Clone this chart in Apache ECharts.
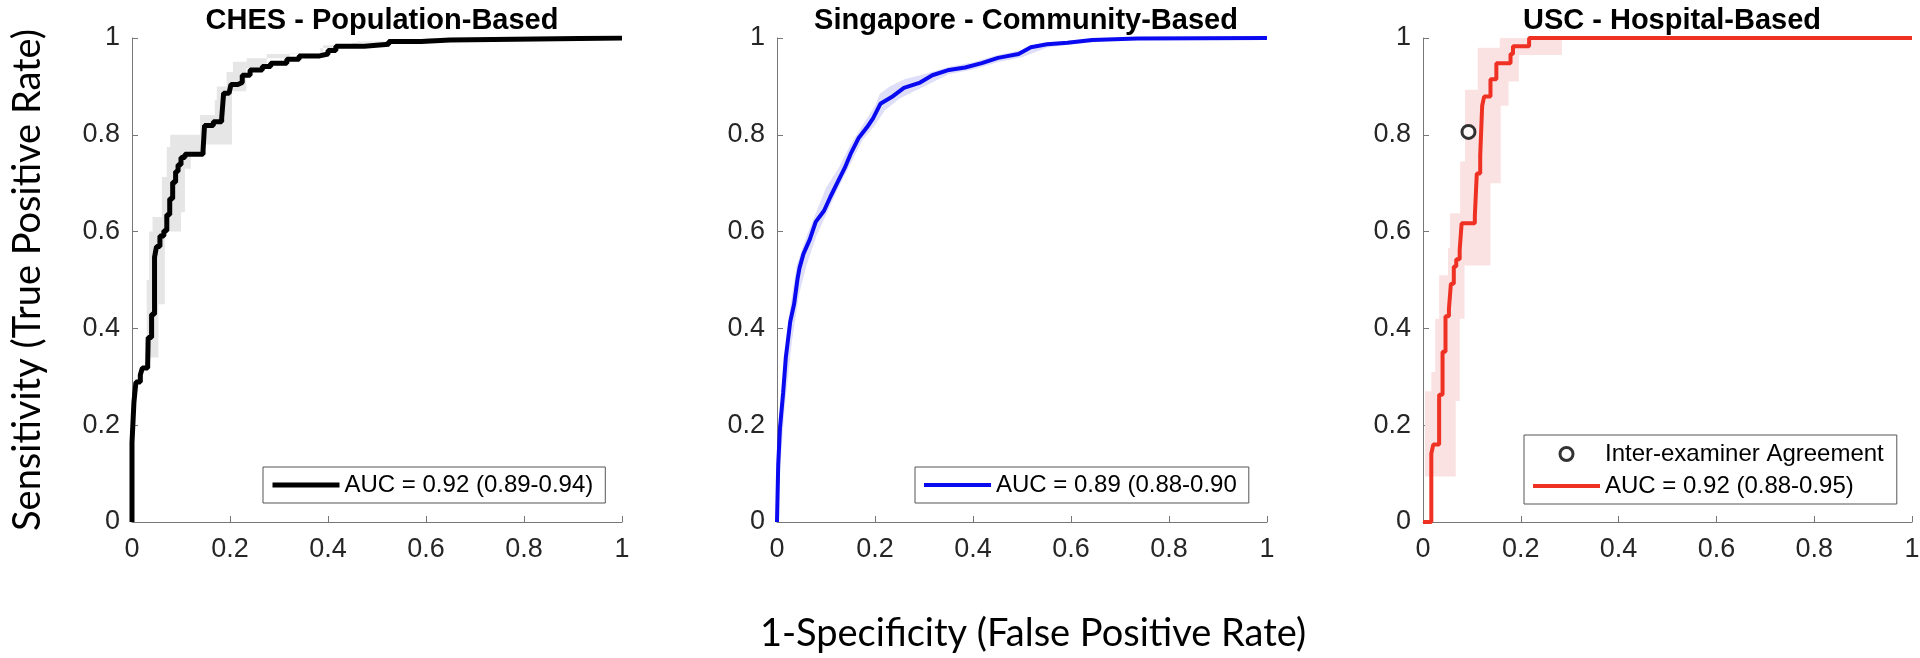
<!DOCTYPE html>
<html>
<head>
<meta charset="utf-8">
<title>ROC curves</title>
<script src="https://cdn.jsdelivr.net/npm/echarts@6/dist/echarts.min.js"></script>
<style>
  html, body { margin: 0; padding: 0; background: #fff; }
  #main { width: 1920px; height: 658px; }
</style>
</head>
<body>
<div id="main"></div>
<script>
// values (FPR, TPR)
var tickValues = [0, 0.2, 0.4, 0.6, 0.8, 1];
var panelTitles = ['CHES - Population-Based', 'Singapore - Community-Based', 'USC - Hospital-Based'];
var legendNames = ['AUC = 0.92 (0.89-0.94)', 'AUC = 0.89 (0.88-0.90', 'AUC = 0.92 (0.88-0.95)'];
var pointName = 'Inter-examiner Agreement';

// CHES: stepped ROC, each point = "at this FPR the curve rises to this TPR"
var chesCurve = [[0,0],[0,0.164],[0.004,0.248],[0.008,0.289],[0.017,0.304],[0.021,0.318],[0.032,0.326],
  [0.033,0.381],[0.04,0.429],[0.046,0.547],[0.05,0.569],[0.057,0.591],[0.065,0.602],[0.071,0.635],
  [0.077,0.668],[0.083,0.702],[0.089,0.724],[0.094,0.738],[0.1,0.753],[0.108,0.76],[0.145,0.768],
  [0.148,0.819],[0.166,0.827],[0.183,0.834],[0.187,0.886],[0.198,0.889],[0.202,0.904],[0.216,0.908],
  [0.225,0.923],[0.241,0.934],[0.266,0.941],[0.283,0.948],[0.316,0.956],[0.341,0.963],[0.383,0.967],
  [0.4,0.974],[0.416,0.983],[0.474,0.987],[0.524,0.993],[0.59,0.996],[0.649,1],[1,1]];
var chesBandUpper = [[0.021,0.34],[0.03,0.5],[0.035,0.6],[0.042,0.63],[0.061,0.713],[0.071,0.775],
  [0.078,0.8],[0.139,0.841],[0.169,0.872],[0.173,0.9],[0.193,0.93],[0.206,0.951],[0.234,0.958],
  [0.322,0.968],[0.384,0.979],[0.45,0.99],[0.55,0.996],[0.62,1]];
var chesBandLower = [[0.054,0.34],[0.054,0.45],[0.067,0.6],[0.1,0.64],[0.108,0.73],[0.12,0.76],
  [0.141,0.78],[0.204,0.89],[0.233,0.937],[0.275,0.967],[0.39,0.985],[0.46,0.993],[0.6,1]];

// Singapore: dense ROC, drawn as a plain line
var sgCurve = [[0,0],[0.0025,0.119],[0.006,0.193],[0.0125,0.267],[0.018,0.34],[0.027,0.414],
  [0.035,0.451],[0.042,0.503],[0.046,0.525],[0.054,0.554],[0.067,0.584],[0.079,0.62],[0.096,0.643],
  [0.109,0.672],[0.125,0.705],[0.138,0.731],[0.15,0.76],[0.167,0.794],[0.184,0.816],[0.196,0.834],
  [0.211,0.864],[0.234,0.878],[0.259,0.897],[0.292,0.908],[0.317,0.923],[0.351,0.934],[0.384,0.939],
  [0.418,0.948],[0.451,0.959],[0.493,0.967],[0.518,0.981],[0.551,0.987],[0.593,0.99],[0.643,0.996],
  [0.735,0.999],[1,1]];
var sgBandUpper = [[0,0],[0.003,0.15],[0.012,0.29],[0.025,0.43],[0.04,0.53],[0.06,0.59],[0.08,0.64],
  [0.1,0.69],[0.125,0.73],[0.15,0.78],[0.175,0.82],[0.2,0.86],[0.21,0.885],[0.23,0.9],[0.26,0.915],
  [0.3,0.925],[0.35,0.94],[0.4,0.95],[0.45,0.965],[0.5,0.975],[0.52,0.985],[0.6,0.995],[0.7,1],[1,1]];
var sgBandLower = [[0,0],[0.006,0.1],[0.015,0.23],[0.03,0.37],[0.045,0.47],[0.06,0.53],[0.08,0.59],
  [0.1,0.635],[0.125,0.69],[0.15,0.74],[0.175,0.79],[0.2,0.82],[0.22,0.85],[0.25,0.875],[0.3,0.9],
  [0.35,0.925],[0.4,0.935],[0.45,0.95],[0.5,0.96],[0.55,0.98],[0.6,0.987],[0.7,0.996],[1,1]];

// USC: stepped ROC
var uscCurve = [[0,0],[0.017,0],[0.017,0.141],[0.021,0.16],[0.033,0.263],[0.04,0.352],[0.046,0.425],
  [0.053,0.44],[0.057,0.492],[0.063,0.528],[0.068,0.543],[0.075,0.562],[0.079,0.617],[0.106,0.632],
  [0.11,0.72],[0.117,0.757],[0.121,0.86],[0.125,0.879],[0.138,0.915],[0.15,0.948],[0.179,0.967],
  [0.184,0.983],[0.217,1],[1,1]];
var uscBandUpper = [[0.004,0.094],[0.004,0.27],[0.017,0.31],[0.025,0.42],[0.033,0.51],[0.051,0.566],
  [0.055,0.638],[0.076,0.745],[0.086,0.893],[0.112,0.98],[0.157,1]];
var uscBandLower = [[0.025,0.094],[0.067,0.25],[0.075,0.42],[0.085,0.53],[0.138,0.7],[0.159,0.86],
  [0.175,0.91],[0.196,0.965],[0.284,1]];
var uscAgreement = [[0.093, 0.806]];

var chart = echarts.init(document.getElementById('main'));

var grids = [
  { left: 132, top: 38, width: 490, height: 484 },
  { left: 777, top: 38, width: 490, height: 484 },
  { left: 1423, top: 38, width: 489, height: 484 }
];

// horizontal then vertical, same as step: 'end'
function expandSteps(pts) {
  var out = [pts[0]];
  for (var i = 1; i < pts.length; i++) {
    out.push([pts[i][0], pts[i - 1][1]]);
    out.push(pts[i]);
  }
  return out;
}

function bandSeries(idx, upper, lower, stepped, color) {
  return {
    type: 'custom',
    xAxisIndex: idx,
    yAxisIndex: idx,
    z: 1,
    silent: true,
    clip: true,
    data: [[0, 0]],
    renderItem: function (params, api) {
      var up = stepped ? expandSteps(upper) : upper;
      var lo = stepped ? expandSteps(lower) : lower;
      var pts = up.concat(lo.slice().reverse()).map(function (p) { return api.coord(p); });
      return { type: 'polygon', shape: { points: pts }, style: { fill: color } };
    }
  };
}

function tickFmt(v) { return String(+v.toFixed(1)); }

function xAxisFor(idx, extra) {
  var ax = {
    gridIndex: idx, type: 'value', min: tickValues[0], max: tickValues[tickValues.length - 1], interval: 0.2,
    splitLine: { show: false },
    axisLine: { onZero: false, lineStyle: { color: '#777', width: 1 } },
    axisTick: { inside: true, length: 6, lineStyle: { color: '#777' } },
    axisLabel: { margin: 14, color: '#262626', fontFamily: 'Liberation Sans', fontSize: 27, formatter: tickFmt }
  };
  return Object.assign(ax, extra || {});
}

function yAxisFor(idx, extra) {
  var ax = {
    gridIndex: idx, type: 'value', min: tickValues[0], max: tickValues[tickValues.length - 1], interval: 0.2,
    splitLine: { show: false },
    axisLine: { onZero: false, lineStyle: { color: '#777', width: 1 } },
    axisTick: { inside: true, length: 6, lineStyle: { color: '#777' } },
    axisLabel: { margin: 12, color: '#262626', fontFamily: 'Liberation Sans', fontSize: 27, formatter: tickFmt }
  };
  return Object.assign(ax, extra || {});
}

var titleStyle = { fontFamily: 'Liberation Sans', fontWeight: 'bold', fontSize: 29, color: '#000' };
var legendText = { fontFamily: 'Liberation Sans', fontSize: 24, color: '#000' };

function legendFor(left, top, names, padding) {
  return {
    show: true,
    data: names,
    left: left, top: top,
    orient: 'vertical',
    itemWidth: 67, itemHeight: 13, itemGap: 8,
    padding: padding,
    borderColor: '#555', borderWidth: 1,
    backgroundColor: '#fff',
    selectedMode: false,
    textStyle: legendText
  };
}

function lineEntry(name, color, width) {
  return { name: name, itemStyle: { opacity: 0 }, lineStyle: { color: color, width: width, opacity: 1 } };
}

var option = {
  animation: false,
  backgroundColor: '#fff',
  title: [
    { text: panelTitles[0], left: 377, top: 1, textAlign: 'center', textStyle: titleStyle },
    { text: panelTitles[1], left: 1021, top: 1, textAlign: 'center', textStyle: titleStyle },
    { text: panelTitles[2], left: 1667, top: 1, textAlign: 'center', textStyle: titleStyle }
  ],
  grid: grids.map(function (g) { return Object.assign({ outerBoundsMode: 'none', containLabel: false }, g); }),
  xAxis: [
    xAxisFor(0),
    xAxisFor(1, {
      name: '1-Specificity (False Positive Rate)', nameLocation: 'middle', nameGap: 93,
      nameTextStyle: { fontFamily: 'Lato', fontSize: 38, color: '#000', padding: [0, 0, 0, 22] }
    }),
    xAxisFor(2)
  ],
  yAxis: [
    yAxisFor(0, {
      name: 'Sensitivity (True Positive Rate)', nameLocation: 'middle', nameGap: 85, nameRotate: 90,
      nameTextStyle: { fontFamily: 'Lato', fontSize: 38, color: '#000' }
    }),
    yAxisFor(1),
    yAxisFor(2)
  ],
  legend: [
    legendFor(263, 467, [lineEntry(legendNames[0], '#000', 5)], [6, 12, 6, 7]),
    legendFor(915, 467, [lineEntry(legendNames[1], '#0a0af0', 4)], [6, 12, 6, 7]),
    legendFor(1524, 435, [
      { name: pointName, icon: 'circle', itemStyle: { color: '#fff', borderColor: '#000', borderWidth: 3 } },
      lineEntry(legendNames[2], '#ef3124', 4)
    ], [7, 13, 6, 7])
  ],
  series: [
    bandSeries(0, chesBandUpper, chesBandLower, true, '#e6e6e6'),
    bandSeries(1, sgBandUpper, sgBandLower, false, '#dedef9'),
    bandSeries(2, uscBandUpper, uscBandLower, true, '#fbe2e2'),
    {
      name: legendNames[0], type: 'line', xAxisIndex: 0, yAxisIndex: 0, z: 3,
      data: chesCurve, step: 'end', symbol: 'none', color: '#000',
      lineStyle: { color: '#000', width: 5 }
    },
    {
      name: legendNames[1], type: 'line', xAxisIndex: 1, yAxisIndex: 1, z: 3,
      data: sgCurve, symbol: 'none', color: '#0a0af0',
      lineStyle: { color: '#0a0af0', width: 4 }
    },
    {
      name: legendNames[2], type: 'line', xAxisIndex: 2, yAxisIndex: 2, z: 3,
      data: uscCurve, step: 'end', symbol: 'none', color: '#ef3124',
      lineStyle: { color: '#ef3124', width: 4 }
    },
    {
      name: pointName, type: 'scatter', xAxisIndex: 2, yAxisIndex: 2, z: 4,
      data: uscAgreement, symbol: 'circle', symbolSize: 13,
      itemStyle: { color: '#fff', borderColor: '#000', borderWidth: 3 }
    }
  ]
};

chart.setOption(option);
</script>
</body>
</html>
